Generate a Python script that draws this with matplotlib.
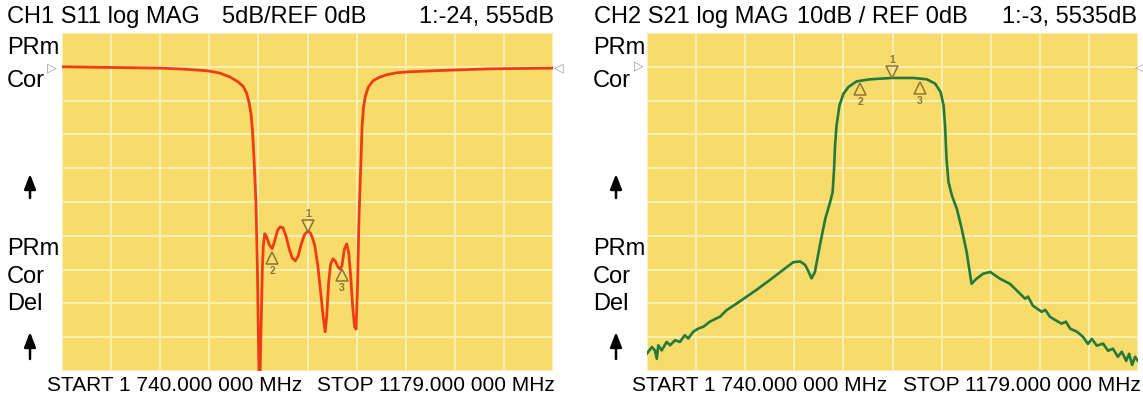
import matplotlib
matplotlib.use('Agg')
import matplotlib.pyplot as plt
from matplotlib.transforms import offset_copy
from matplotlib.patches import FancyArrowPatch

# --- CH1 S11 trace (x in grid divisions, value in dB) ---
s11_x = [0.0, 1.0, 2.0, 2.5, 2.97, 3.2, 3.42, 3.58, 3.69, 3.76, 3.81, 3.85, 3.88, 3.91,
         3.95, 3.98, 4.00, 4.02, 4.05, 4.08, 4.10, 4.13, 4.17, 4.22, 4.28, 4.33, 4.39,
         4.44, 4.50, 4.56, 4.63, 4.69, 4.75, 4.81, 4.87, 4.94, 5.01, 5.06, 5.10, 5.15,
         5.21, 5.27, 5.32, 5.36, 5.39, 5.43, 5.47, 5.52, 5.57, 5.62, 5.66, 5.70, 5.75,
         5.80, 5.84, 5.88, 5.92, 5.96, 5.99, 6.02, 6.05, 6.09, 6.11, 6.14, 6.18, 6.24,
         6.33, 6.45, 6.6, 6.8, 7.03, 7.7, 8.72, 10.0]
s11_db = [0.0, -0.1, -0.2, -0.35, -0.6, -0.9, -1.5, -2.2, -2.9, -3.9, -5.3, -7.0, -9.5, -13.5,
          -20.0, -30.0, -40.0, -50.0, -40.0, -30.0, -26.5, -24.7, -25.2, -26.3, -26.9, -25.8, -24.2,
          -23.7, -23.8, -25.0, -27.0, -28.3, -28.7, -28.0, -26.3, -24.8, -24.3, -24.6, -25.3, -26.5,
          -29.4, -33.5, -37.0, -39.2, -37.0, -32.0, -29.2, -28.4, -28.8, -29.6, -29.9, -29.5, -27.0,
          -26.2, -27.5, -31.0, -35.5, -38.5, -38.8, -32.0, -22.0, -13.6, -9.0, -6.0, -4.3, -3.0,
          -2.1, -1.6, -1.2, -0.9, -0.75, -0.55, -0.3, -0.2]

# --- CH2 S21 trace ---
s21_x = [0.0, 0.10, 0.16, 0.20, 0.23, 0.30, 0.40, 0.47, 0.57, 0.67, 0.77, 0.84, 0.94, 1.05,
         1.15, 1.28, 1.49, 1.62, 1.83, 2.03, 2.23, 2.51, 2.78, 2.98, 3.12, 3.22, 3.29, 3.35,
         3.42, 3.52, 3.63, 3.73, 3.78, 3.81, 3.83, 3.86, 3.92, 4.00, 4.10, 4.27, 4.54, 4.98,
         5.42, 5.70, 5.87, 5.98, 6.04, 6.07, 6.10, 6.14, 6.21, 6.31, 6.41, 6.51, 6.61, 6.71,
         6.85, 6.99, 7.19, 7.39, 7.54, 7.70, 7.76, 7.86, 8.04, 8.11, 8.21, 8.37, 8.45, 8.53,
         8.62, 8.76, 8.88, 8.98, 9.06, 9.16, 9.29, 9.39, 9.49, 9.59, 9.67, 9.76, 9.82, 9.88,
         9.94, 10.0]
s21_db = [-84.8, -82.9, -83.9, -86.4, -82.4, -83.9, -81.4, -82.4, -80.9, -81.4, -79.4, -80.4, -78.4, -77.4,
          -76.9, -75.4, -73.9, -72.0, -70.0, -68.0, -66.0, -63.0, -60.0, -57.8, -57.6, -58.6, -60.6, -62.6,
          -60.7, -52.9, -45.0, -40.0, -37.1, -30.2, -23.3, -17.4, -11.4, -8.0, -6.0, -4.3, -3.7, -3.3,
          -3.3, -3.7, -5.0, -7.5, -11.4, -17.4, -27.2, -34.1, -38.1, -42.0, -47.9, -54.8, -64.2, -62.7,
          -61.2, -60.7, -62.7, -64.2, -66.3, -68.6, -68.0, -70.7, -72.5, -71.9, -74.0, -75.4, -76.0, -75.4,
          -77.5, -78.4, -79.9, -82.0, -80.5, -82.5, -81.9, -84.0, -83.4, -85.8, -84.3, -87.0, -84.9, -88.2,
          -85.8, -87.0]

# markers: (x div, dB, label)
s11_markers = [(5.01, -24.555, '1'), (4.28, -26.9, '2'), (5.70, -29.5, '3')]
s21_markers = [(4.99, -3.5535, '1'), (4.34, -4.0, '2'), (5.56, -3.6, '3')]

YELLOW = '#f7db6b'
GRID = '#fbefb6'
MK = '#8a7636'
FONT = ['Liberation Sans', 'DejaVu Sans']

fig = plt.figure(figsize=(11.43, 4.02), dpi=100)
fig.patch.set_facecolor('white')


def setup_axes(rect, ylim):
    ax = fig.add_axes(rect)
    ax.set_facecolor(YELLOW)
    ax.set_xlim(0, 10)
    ax.set_ylim(*ylim)
    ax.set_xticks(range(11))
    ax.set_yticks([ylim[0] + i * (ylim[1] - ylim[0]) / 10 for i in range(11)])
    ax.grid(True, color=GRID, linewidth=1.4)
    ax.tick_params(length=0, labelbottom=False, labelleft=False)
    for sp in ax.spines.values():
        sp.set_visible(False)
    return ax


def draw_markers(ax, markers):
    for x, y, lab in markers:
        if lab == '1':
            tr = offset_copy(ax.transData, fig=fig, y=7, units='dots')
            ax.plot([x], [y], marker='v', ms=9, mfc='none', mec=MK, mew=1.1, transform=tr, clip_on=False)
            ax.text(x, y, lab, transform=offset_copy(ax.transData, fig=fig, y=15, units='dots'),
                    ha='center', va='bottom', fontsize=7.5, color=MK, family=FONT, fontweight='bold')
        else:
            tr = offset_copy(ax.transData, fig=fig, y=-9, units='dots')
            ax.plot([x], [y], marker='^', ms=9, mfc='none', mec=MK, mew=1.1, transform=tr)
            ax.text(x, y, lab, transform=offset_copy(ax.transData, fig=fig, y=-16, units='dots'),
                    ha='center', va='top', fontsize=7.5, color=MK, family=FONT, fontweight='bold')


W = 491 / 1143
H = 338 / 402
B = 30 / 402
ax1 = setup_axes([62 / 1143, B, W, H], (-45, 5))
ax1.plot(s11_x, s11_db, color='#f03c14', lw=2.0)
draw_markers(ax1, s11_markers)

ax2 = setup_axes([647 / 1143, B, W, H], (-90, 10))
ax2.plot(s21_x, s21_db, color='#247a38', lw=1.9)
draw_markers(ax2, s21_markers)


def px(x, y, s, size=17, ha='left', **kw):
    fig.text(x / 1143, 1 - y / 402, s, fontsize=size, ha=ha, va='center', family=FONT, **kw)


def up_arrow(x, y_top, y_bot):
    fig.add_artist(FancyArrowPatch((x / 1143, 1 - y_bot / 402), (x / 1143, 1 - y_top / 402),
                                   transform=fig.transFigure, arrowstyle='-|>,head_length=0.9,head_width=0.35',
                                   mutation_scale=10, lw=1.8, color='black',
                                   shrinkA=0, shrinkB=0))


# headers
px(7, 17, 'CH1 S11 log MAG')
px(222, 17, '5dB/REF 0dB')
px(554, 17, '1:-24, 555dB', ha='right')
px(594, 17, 'CH2 S21 log MAG')
px(797, 17, '10dB / REF 0dB')
px(1137, 17, '1:-3, 5535dB', ha='right')

# side labels
for x0 in (7, 593):
    px(x0, 48, 'PRm')
    px(x0, 81, 'Cor')
    up_arrow(x0 + 23, 175, 199)
    px(x0, 249, 'PRm')
    px(x0, 277, 'Cor')
    px(x0, 304, 'Del')
    up_arrow(x0 + 23, 333, 360)

# bottom start / stop
px(47, 386, 'START 1 740.000 000 MHz', size=15)
px(555, 386, 'STOP 1179.000 000 MHz', size=15, ha='right')
px(632, 386, 'START 1 740.000 000 MHz', size=15)
px(1141, 386, 'STOP 1179.000 000 MHz', size=15, ha='right')

# reference level triangles
px(52, 68, '\u25b7', size=9, color='#9a9a9a', ha='center')
px(559, 68, '\u25c1', size=9, color='#9a9a9a', ha='center')
px(639, 66, '\u25b7', size=9, color='#9a9a9a', ha='center')
px(1143, 68, '\u25c1', size=8, color='#9a9a9a', ha='right')

fig.savefig('out.png', dpi=100, facecolor='white')
